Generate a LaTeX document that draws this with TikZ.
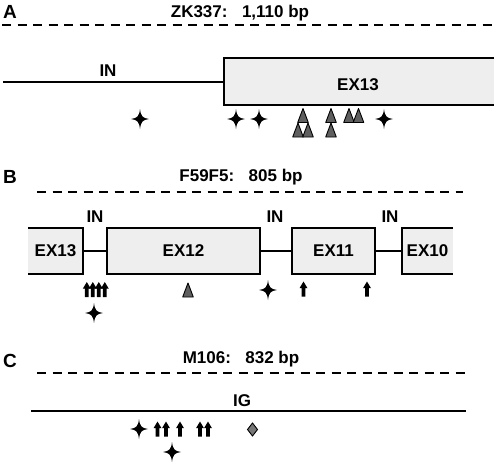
\documentclass[tikz,border=0pt]{standalone}
\usepackage{fontspec}
\setmainfont{Liberation Sans}
\begin{document}
\begin{tikzpicture}[x=1pt,y=-1pt,
  lw/.style={line width=2pt},
  dashline/.style={line width=2.2pt,dash pattern=on 9pt off 6.5pt},
  txt/.style={font=\bfseries\fontsize{17}{20}\selectfont,inner sep=0pt,anchor=base},
  panel/.style={font=\bfseries\fontsize{19}{22}\selectfont,inner sep=0pt,anchor=base},
  exbox/.style={draw,lw,fill=boxgray,inner sep=0pt,minimum height=46pt,font=\bfseries\fontsize{17}{20}\selectfont},
  fillbox/.style={fill=boxgray,draw=none,inner sep=0pt},
  star/.pic={\fill (0,-10) .. controls (0.9,-2.6) and (2.6,-0.9) .. (9,0)
     .. controls (2.6,0.9) and (0.9,2.6) .. (0,10)
     .. controls (-0.9,2.6) and (-2.6,0.9) .. (-9,0)
     .. controls (-2.6,-0.9) and (-0.9,-2.6) .. cycle;},
  tri/.pic={\draw[line width=0.9pt,fill=trigray,line join=round] (-5.3,7) -- (5.3,7) -- (0,-7) -- cycle;},
  uparrow/.pic={\fill (0,-7.5) -- (4,-0.8) -- (1.9,-0.8) -- (1.9,7.5) -- (-1.9,7.5) -- (-1.9,-0.8) -- (-4,-0.8) -- cycle;},
  dia/.pic={\draw[line width=0.9pt,fill=trigray!85] (0,-6.5) -- (5,0) -- (0,6.5) -- (-5,0) -- cycle;}
]
\definecolor{boxgray}{RGB}{238,238,238}
\definecolor{trigray}{RGB}{95,95,95}
\useasboundingbox (0,0) rectangle (498,464);

% ---------------- Panel A
\node[panel] (la) at (10,18) {A};
\node[txt] (ta) at (240,17) {ZK337:\hspace{0.85em}1,110 bp};
\coordinate (da1) at (2,25); \coordinate (da2) at (498,25);
\draw[dashline] (da1) -- (da2);
\node[fillbox,minimum width=270pt,minimum height=47pt] (exA) at (359,81.5) {};
\draw[lw] (exA.north east) -- (exA.north west) -- (exA.south west) -- (exA.south east);
\coordinate (inA) at (3,81.5);
\draw[lw] (inA) -- (exA.west);
\node[txt] (inAl) at (108,76) {IN};
\node[txt] (exAl) at (358,90) {EX13};
\pic at (140,119) {star};
\pic at (236,119) {star};
\pic at (259,119) {star};
\pic at (384,119) {star};
\pic at (303,115.5) {tri};
\pic at (298,130) {tri};
\pic at (308,130) {tri};
\pic at (331,115.5) {tri};
\pic at (331,130) {tri};
\pic at (349,115.5) {tri};
\pic at (358.5,115.5) {tri};

% ---------------- Panel B
\node[panel] (lb) at (10,183) {B};
\node[txt] (tb) at (241,181) {F59F5:\hspace{0.85em}805 bp};
\coordinate (db1) at (37,192); \coordinate (db2) at (463,192);
\draw[dashline] (db1) -- (db2);
\node[fillbox,minimum width=55pt,minimum height=46pt,font=\bfseries\fontsize{17}{20}\selectfont] (ex13b) at (55.5,251) {EX13};
\draw[lw] (ex13b.north west) -- (ex13b.north east) -- (ex13b.south east) -- (ex13b.south west);
\node[exbox,minimum width=153pt] (ex12) at (183.5,251) {EX12};
\node[exbox,minimum width=83pt] (ex11) at (333.5,251) {EX11};
\node[fillbox,minimum width=51pt,minimum height=46pt,font=\bfseries\fontsize{17}{20}\selectfont] (ex10) at (427.5,251) {EX10};
\draw[lw] (ex10.north east) -- (ex10.north west) -- (ex10.south west) -- (ex10.south east);
\draw[lw] (ex13b.east) -- (ex12.west);
\draw[lw] (ex12.east) -- (ex11.west);
\draw[lw] (ex11.east) -- (ex10.west);
\node[txt] (inB1) at (95,222) {IN};
\node[txt] (inB2) at (275,222) {IN};
\node[txt] (inB3) at (390,222) {IN};
\pic at (86.8,289.5) {uparrow};
\pic at (92.8,289.5) {uparrow};
\pic at (98.8,289.5) {uparrow};
\pic at (104.8,289.5) {uparrow};
\pic at (94,313) {star};
\pic at (188,290) {tri};
\pic at (268,290) {star};
\pic at (303.5,289) {uparrow};
\pic at (367,289) {uparrow};

% ---------------- Panel C
\node[panel] (lc) at (10,367) {C};
\node[txt] (tc) at (241,363) {M106:\hspace{0.85em}832 bp};
\coordinate (dc1) at (37,373); \coordinate (dc2) at (467,373);
\draw[dashline] (dc1) -- (dc2);
\coordinate (ig1) at (31,411); \coordinate (ig2) at (466,411);
\draw[lw] (ig1) -- (ig2);
\node[txt] (igl) at (242,406) {IG};
\pic at (139,429) {star};
\pic at (157.5,429) {uparrow};
\pic at (166,429) {uparrow};
\pic at (180,429) {uparrow};
\pic at (200,429) {uparrow};
\pic at (208,429) {uparrow};
\pic at (172,452) {star};
\pic at (252.5,429.5) {dia};
\end{tikzpicture}
\end{document}
